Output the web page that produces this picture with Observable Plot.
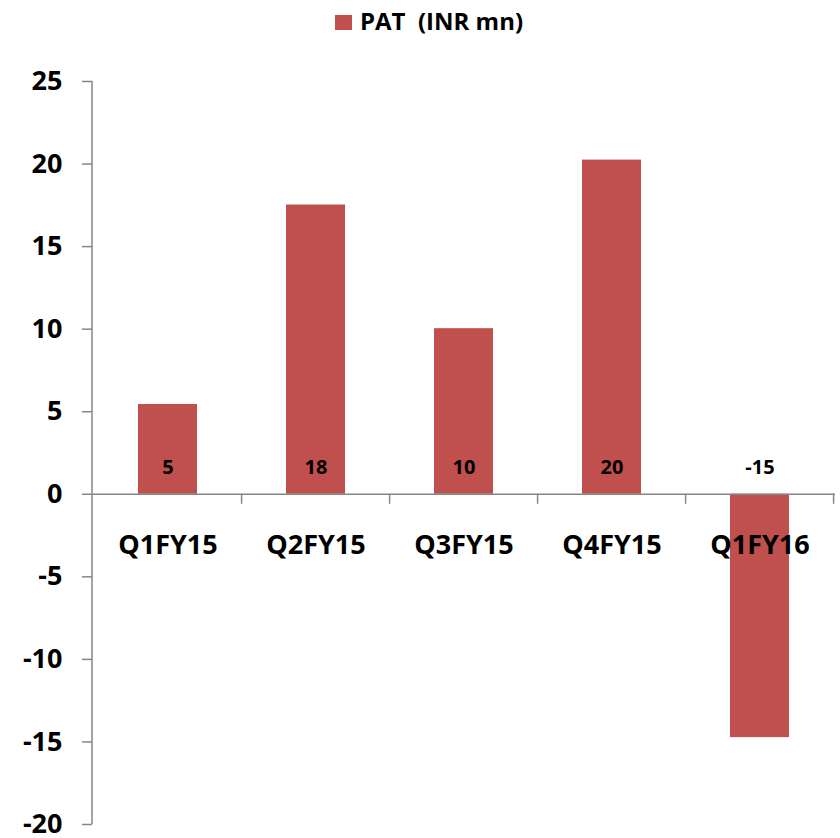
<!DOCTYPE html>
<html>
<head>
<meta charset="utf-8">
<script src="https://cdn.jsdelivr.net/npm/d3@7"></script>
<script src="https://cdn.jsdelivr.net/npm/@observablehq/plot@0.6"></script>
<style>
  html, body { margin: 0; padding: 0; background: #fff; }
  body { width: 840px; height: 838px; overflow: hidden; font-family: "Open Sans", sans-serif; }
  #legend { height: 45px; display: flex; align-items: center; justify-content: center; font-weight: bold; font-size: 24px; color: #000; white-space: pre; padding-left: 18px; box-sizing: border-box; }
  #legend .sw { width: 17px; height: 15px; background: #C0504D; margin-right: 8px; }
  #legend span { position: relative; top: -2px; }
  svg { display: block; overflow: visible; }
</style>
</head>
<body>
<div id="legend"><div class="sw"></div><span>PAT  (INR mn)</span></div>
<div id="chart"></div>
<script>
const categories = ["Q1FY15", "Q2FY15", "Q3FY15", "Q4FY15", "Q1FY16"];
const values = [5.44, 17.52, 10.03, 20.24, -14.74];
const valueLabels = ["5", "18", "10", "20", "-15"];
const yTicks = [-20, -15, -10, -5, 0, 5, 10, 15, 20, 25];

const data = categories.map((c, i) => ({cat: c, v: values[i], label: valueLabels[i]}));

const axisColor = "#868686";

// custom mark: vertical axis line + category boundary ticks below the zero line
function boundaryMark(index, scales, values_, dimensions) {
  const x = scales.x, y = scales.y;
  const g = d3.create("svg:g").attr("stroke", axisColor).attr("stroke-width", 1.5);
  const y0 = y(0);
  g.append("line")
    .attr("x1", dimensions.marginLeft).attr("x2", dimensions.marginLeft)
    .attr("y1", y(d3.max(yTicks))).attr("y2", y(d3.min(yTicks)));
  const bounds = categories.map(c => x(c) - x.step() * x.paddingInner() / 2 + x.step());
  bounds.forEach(b => {
    g.append("line").attr("x1", b).attr("x2", b).attr("y1", y0).attr("y2", y0 + 10);
  });
  return g.node();
}

const chart = Plot.plot({
  width: 840,
  height: 793,
  marginTop: 36,
  marginBottom: 14,
  marginLeft: 92,
  marginRight: 5,
  style: {fontFamily: "Open Sans, sans-serif", background: "#fff", overflow: "visible"},
  x: {domain: categories, paddingInner: 0.6, paddingOuter: 0.3, axis: null},
  y: {domain: [-20, 25], ticks: yTicks, axis: null},
  marks: [
    Plot.barY(data, {x: "cat", y: "v", fill: "#C0504D"}),
    Plot.ruleY([0], {stroke: axisColor, strokeWidth: 1.5}),
    Plot.axisY({
      ticks: yTicks,
      tickSize: 10,
      tickPadding: 20,
      stroke: axisColor,
      strokeWidth: 1.5,
      fontSize: 27,
      fontWeight: "bold",
      fill: "#000",
      label: null,
      tickFormat: d => String(d)
    }),
    boundaryMark,
    Plot.text(data, {x: "cat", y: 0, text: "label", dy: -27, fontSize: 20, fontWeight: "bold", fill: "#000", lineAnchor: "middle"}),
    Plot.text(data, {x: "cat", y: 0, text: "cat", dy: 51, fontSize: 27, fontWeight: "bold", fill: "#000", lineAnchor: "middle"})
  ]
});
document.getElementById("chart").appendChild(chart);
</script>
</body>
</html>
